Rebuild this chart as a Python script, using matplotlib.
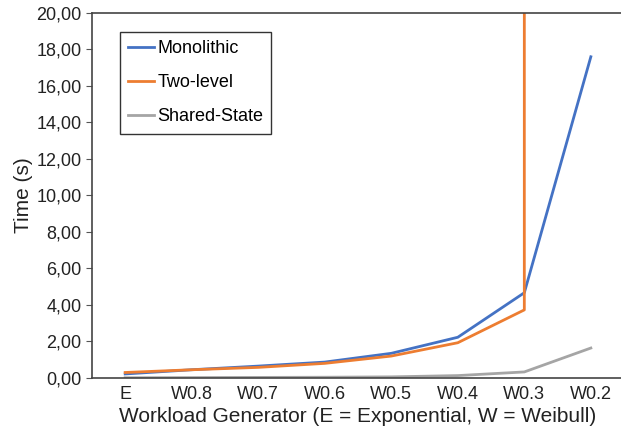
import numpy as np
import matplotlib
matplotlib.use("Agg")
import matplotlib.pyplot as plt
from matplotlib.ticker import FuncFormatter

plt.rcParams['font.family'] = ['Liberation Sans', 'DejaVu Sans']

# Datos
categorias = ['E', 'W0.8', 'W0.7', 'W0.6', 'W0.5', 'W0.4', 'W0.3', 'W0.2']
monolithic = [0.22, 0.45, 0.65, 0.87, 1.35, 2.23, 4.67, 17.6]
two_level = [0.30, 0.45, 0.58, 0.80, 1.20, 1.93, 3.73, 100000.0]   # W0.2 fuera de escala
shared_state = [0.01, 0.02, 0.03, 0.04, 0.06, 0.13, 0.33, 1.64]
y_ticks = [0, 2, 4, 6, 8, 10, 12, 14, 16, 18, 20]

fig = plt.figure(figsize=(6.21, 4.40), dpi=100)
ax = fig.add_axes([0.148, 0.141, 0.857, 0.8295])

x = np.arange(len(categorias))
ax.plot(x, monolithic, color='#4472C4', lw=2, label='Monolithic')
ax.plot(x, two_level, color='#ED7D31', lw=2, label='Two-level')
ax.plot(x, shared_state, color='#A5A5A5', lw=2, label='Shared-State')

ax.set_xlim(-0.5, len(categorias) - 0.5)
ax.set_ylim(0, 20)
ax.set_xticks(x)
ax.set_xticklabels(categorias)
ax.set_yticks(y_ticks)
ax.yaxis.set_major_formatter(FuncFormatter(lambda v, p: f'{v:.2f}'.replace('.', ',')))
ax.tick_params(axis='x', length=0, labelsize=13, pad=6, colors='#222222')
ax.tick_params(axis='y', length=4, labelsize=13, color='#555555', labelcolor='#222222')
for s in ax.spines.values():
    s.set_color('#444444')
    s.set_linewidth(1.2)

ax.set_xlabel('Workload Generator (E = Exponential, W = Weibull)', fontsize=15, color='#222222', labelpad=3)
ax.set_ylabel('Time (s)', fontsize=15, color='#222222', labelpad=2)

leg = ax.legend(loc='upper left', bbox_to_anchor=(0.053, 0.948), borderaxespad=0, fontsize=13,
                handlelength=1.4, handletextpad=0.2, labelspacing=0.95, fancybox=False,
                framealpha=1, borderpad=0.45)
leg.get_frame().set_edgecolor('#333333')
leg.get_frame().set_linewidth(1)

fig.savefig('out.png', dpi=100)
